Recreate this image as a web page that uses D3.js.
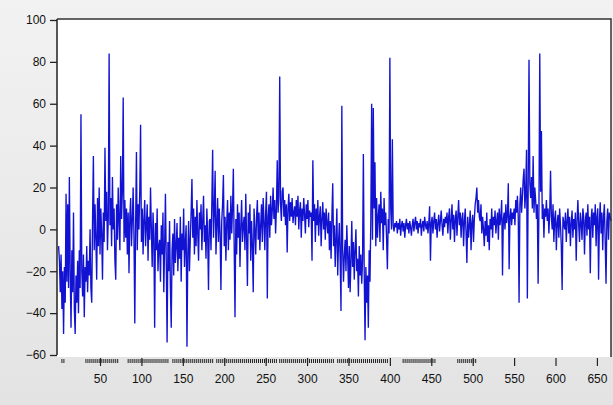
<!DOCTYPE html>
<html>
<head>
<meta charset="utf-8">
<script src="https://cdn.jsdelivr.net/npm/d3@7"></script>
<style>
  html, body { margin: 0; padding: 0; }
  body { width: 613px; height: 405px; overflow: hidden; }
  text { font-family: "Liberation Sans", Arial, sans-serif; font-size: 12px; fill: #111; }
</style>
</head>
<body>
<div id="chart"></div>
<script>
var values = [
  -8, -15, -30, -12, -38, -20, -50, -18, -35, 17, -25, 12, -28, 25, -20, -47, -10, -30, 8, -38,
  -50, -22, -35, -15, -40, -10, -28, 55, -20, -32, -12, -42, -18, -25, -8, -30, -15, -22, 0, -28,
  -35, 5, 35, -10, 12, -5, -24, 15, -8, 20, -12, 10, -2, -24, 8, -6, 39, 4, 18, -10, 6,
  84, 2, 15, -8, 25, 0, 10, -15, -24, 12, -5, 20, 3, -10, 35, 5, 18, 63, -6, 14,
  -4, 10, -12, 8, -21, 6, 15, -8, 4, 20, -3, -45, 2, 37, -10, 12, 0, 18, 50, -6,
  10, -12, 5, 14, -8, 2, 12, -15, 6, -5, 20, 0, -18, 8, -4, -47, 3, -10, 10, -20, -8,
  -5, -25, 2, -12, 8, -30, -8, 17, -15, -54, -6, -20, 4, -28, -47, -10, -2, -22, 5, -16,
  -8, 3, -20, -4, -14, 6, -25, -2, -10, 10, -18, -6, 2, -56, -12, 4, -20, -5, 8, 24,
  -4, 10, -12, 6, -8, 14, -2, -15, 8, 0, 12, -10, 4, 16, -6, 2, -14, 10, -3, -29, 4,
  5, -10, 12, 38, -4, 8, 28, -12, 2, 15, -6, 10, -2, -29, 4, 12, 26, -8, 6, -15,
  3, 14, -10, 8, -5, 16, -2, 10, 29, -8, -42, 5, -12, 12, -4, 8, -18, 2, 14, -6, 2,
  6, -10, 17, -4, -27, 8, -2, 12, -15, 4, -8, -30, 10, 0, -12, 6, 14, -5, 8, -10,
  2, 12, -6, 15, 4, -10, 8, 18, -33, 6, 12, -4, 16, 2, 9, 20, 5, 14, -2, 10,
  33, 8, 16, 73, 12, 4, 18, 20, 6, 14, 2, 12, -11, 10, 17, 4, 13, 6, 15, 3, 8,
  11, 2, 14, 6, 16, 0, 9, 13, -4, 10, 4, 15, 7, -2, 12, 5, 14, 1, 9, 6,
  8, -15, 33, 4, 12, -6, 10, 2, 14, -3, 6, 11, -8, 5, 13, 0, 8, -5, 10, 3,
  -2, 8, -10, 4, -14, 6, 22, -8, 2, -18, -4, 10, -22, -6, 3, -15, -39, 59, -10, -25, -12,
  -5, -20, 2, -12, -28, -8, -30, -15, 4, -18, -6, -24, -10, 0, -20, -14, -32, -8, -22, -12,
  -26, -15, 36, -20, -53, -18, -35, -22, -47, -10, -25, 5, 60, -5, 58, 10, 32, -8, 15, -4, 6,
  12, -6, 18, 3, 10, -10, 15, 2, 8, -4, -19, 5, -2, 82, 10, 0, 43, 2, -1, 3,
  1, 4, -2, 3, 0, 5, -3, 2, 4, -1, 3, -4, 2, 5, 0, 3, -2, 4, 1, -3,
  2, 5, -1, 3, 6, 0, 4, -2, 3, 1, 5, -3, 2, 4, -1, 6, 2, 0, 4, -2, 3,
  11, -15, 3, 6, -2, 4, 8, 0, 5, -4, 3, 7, -1, 4, 9, 2, -3, 5, 1, 6,
  3, 8, -2, 6, 10, -5, 4, 12, 0, 7, -6, 5, 9, -3, 6, 14, 2, 8, -4, 5,
  8, -8, 4, 10, -2, -16, 6, -4, 2, 9, -10, 3, 7, -6, 5, 12, 15, 20, 8, 14, 6,
  4, 12, -2, 6, 0, -8, 4, -3, 8, -6, 2, -10, 5, 0, 10, -4, 6, 2, 9, -2,
  4, 8, -5, 10, 2, 6, 14, -22, 5, 8, 0, 12, 3, 7, 22, -19, 6, 10, 2, 8,
  5, 10, 2, 14, 8, 16, 6, -35, 12, 20, 8, 15, 24, 29, 10, 18, 38, -33, 20, 81, 22,
  15, 25, 10, 35, 8, 20, 14, 5, 12, -26, 10, 84, 18, 47, 5, 12, -4, 10, 6, 14,
  4, 10, -2, 8, 28, 6, 0, 12, -6, 5, 9, -10, 3, 7, -4, 10, 2, -8, -29, 6, 3,
  0, 8, -6, 4, 10, -2, 6, -8, 3, 9, -4, 5, 0, 8, -15, 4, 14, 2, -6, 8,
  3, -5, 10, 6, -12, 4, 8, -3, 12, 0, 6, -21, 5, 10, -4, 8, 2, 12, -8, 6,
  10, -24, 4, 13, -2, 8, -10, 6, 12, -6, -26, 4, 10, -5, 8, 6, 4
];

var yTicks = [-60, -40, -20, 0, 20, 40, 60, 80, 100];
var xTicks = [50, 100, 150, 200, 250, 300, 350, 400, 450, 500, 550, 600, 650];
// stretches of the x axis that carry the small observation ticks
var minorTickRanges = [[4, 6.5], [33, 72], [84, 134], [138, 186], [191, 264], [267, 334], [337, 398], [416, 455], [482, 505]];

var w = 613, h = 405;
var margin = {top: 19, right: 2, bottom: 48, left: 57};

var svg = d3.select("#chart")
  .append("svg")
  .attr("width", w)
  .attr("height", h);

var defs = svg.append("defs");
var grad = defs.append("linearGradient")
  .attr("id", "bg")
  .attr("x1", 0).attr("y1", 0).attr("x2", 0).attr("y2", 1);
grad.append("stop").attr("offset", "0%").attr("stop-color", "#f2f2f2");
grad.append("stop").attr("offset", "100%").attr("stop-color", "#e3e3e3");

svg.append("rect")
  .attr("width", w)
  .attr("height", h)
  .attr("fill", "url(#bg)");

var x = d3.scaleLinear()
  .domain([0, values.length - 1])
  .range([margin.left + 1.6, w - margin.right]);

var y = d3.scaleLinear()
  .domain([-60, 100])
  .range([h - margin.bottom - 2, margin.top + 1]);

// white plot area
svg.append("rect")
  .attr("x", margin.left)
  .attr("y", margin.top)
  .attr("width", w - margin.right - margin.left)
  .attr("height", h - margin.bottom - margin.top)
  .attr("fill", "#fff");

var line = d3.line()
  .x(function (d, i) { return x(i); })
  .y(function (d) { return y(d); });

svg.append("path")
  .datum(values)
  .attr("d", line)
  .attr("fill", "none")
  .attr("stroke", "#1212d2")
  .attr("stroke-width", 1.35);

// frame: top and right edges
svg.append("path")
  .attr("d", "M" + margin.left + "," + margin.top + "H" + (w - margin.right) + "V" + (h - margin.bottom))
  .attr("fill", "none")
  .attr("stroke", "#333")
  .attr("stroke-width", 1.5);

// y axis
var yAxis = svg.append("g")
  .attr("transform", "translate(" + margin.left + ",0)")
  .call(d3.axisLeft(y).tickValues(yTicks).tickSize(7).tickPadding(4).tickFormat(d3.format("d")));
yAxis.select(".domain").attr("stroke", "#222").attr("stroke-width", 1.5)
  .attr("d", "M0," + margin.top + "V" + y(-60));
yAxis.selectAll(".tick line").attr("stroke", "#222").attr("stroke-width", 1.3);
yAxis.selectAll("text").style("font-size", "12px").attr("fill", "#111");

// x axis: small ticks then labelled ones
var minor = [];
minorTickRanges.forEach(function (r) {
  d3.range(r[0], r[1] + 0.1, 2.4).forEach(function (v) { minor.push(v); });
});

var xBase = h - margin.bottom;
svg.append("g")
  .selectAll("line")
  .data(minor)
  .enter().append("line")
  .attr("x1", function (d) { return x(d); })
  .attr("x2", function (d) { return x(d); })
  .attr("y1", xBase + 2)
  .attr("y2", xBase + 6)
  .attr("stroke", "#222")
  .attr("stroke-width", 1);

var xAxis = svg.append("g")
  .attr("transform", "translate(0," + (xBase + 1) + ")")
  .call(d3.axisBottom(x).tickValues(xTicks).tickSize(8).tickPadding(8).tickFormat(d3.format("d")));
xAxis.select(".domain").remove();
xAxis.selectAll(".tick line").attr("stroke", "#222").attr("stroke-width", 1.2);
xAxis.selectAll("text").style("font-size", "12px").attr("fill", "#111");
</script>
</body>
</html>
